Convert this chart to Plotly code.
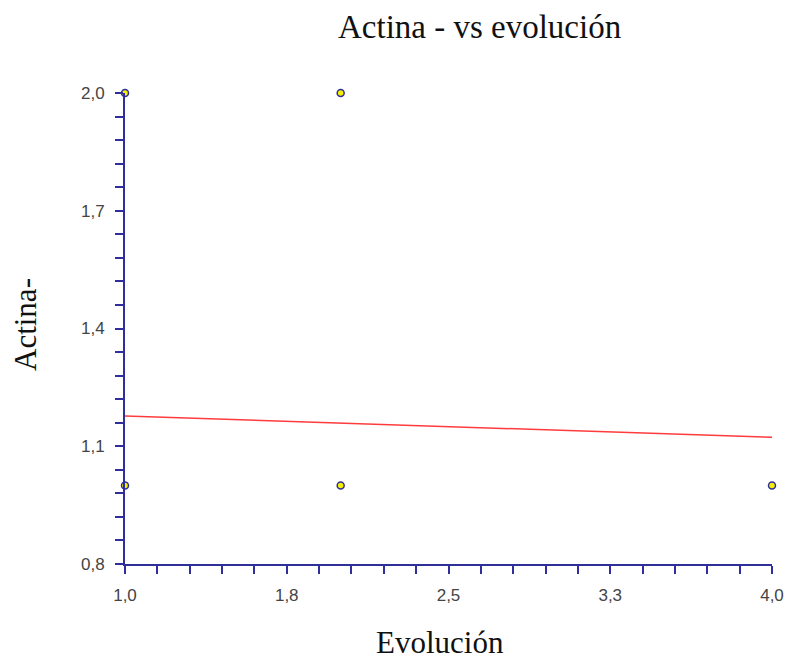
import plotly.graph_objects as go

# Observed cases
evolucion = [1, 2, 1, 2, 4]
actina = [2.0, 2.0, 1.0, 1.0, 1.0]

# Fitted trend line endpoints
fit_x = [1.0, 4.0]
fit_y = [1.177, 1.123]

x_tickvals = [1.0, 1.75, 2.5, 3.25, 4.0]
x_ticktext = ["1,0", "1,8", "2,5", "3,3", "4,0"]
y_tickvals = [0.8, 1.1, 1.4, 1.7, 2.0]
y_ticktext = ["0,8", "1,1", "1,4", "1,7", "2,0"]

axis_color = "#2f2f9c"
serif = "Liberation Serif, Times New Roman, serif"
sans = "Liberation Sans, Arial, sans-serif"

fig = go.Figure()
fig.add_trace(go.Scatter(
    x=fit_x, y=fit_y, mode="lines",
    line=dict(color="#ff3b3b", width=1.5),
    hoverinfo="skip", cliponaxis=False,
))
fig.add_trace(go.Scatter(
    x=evolucion, y=actina, mode="markers",
    marker=dict(size=7, color="#f5f000", line=dict(color="#2f2f9c", width=1.5)),
    cliponaxis=False,
))

tick_common = dict(ticks="outside", ticklen=8, tickwidth=2, tickcolor=axis_color,
                   showline=True, linecolor=axis_color, linewidth=2,
                   showgrid=False, zeroline=False, automargin=False,
                   ticklabelstandoff=7,
                   tickfont=dict(family=sans, size=17, color="#444444"))

fig.update_layout(
    width=790, height=661,
    margin=dict(l=125, r=18, t=93, b=97),
    paper_bgcolor="white", plot_bgcolor="white",
    showlegend=False,
    xaxis=dict(range=[1, 4], tickvals=x_tickvals, ticktext=x_ticktext,
               minor=dict(dtick=0.15, tick0=1, ticks="outside", ticklen=8,
                          tickwidth=2, tickcolor=axis_color),
               **tick_common),
    yaxis=dict(range=[0.8, 2.0], tickvals=y_tickvals, ticktext=y_ticktext,
               minor=dict(dtick=0.06, tick0=0.8, ticks="outside", ticklen=8,
                          tickwidth=2, tickcolor=axis_color),
               **tick_common),
    annotations=[
        dict(text="Actina - vs evolución", xref="paper", yref="paper",
             x=(479.5 - 125) / 647, y=1 + (93 - 27) / 471, xanchor="center",
             yanchor="middle", showarrow=False,
             font=dict(family=serif, size=33, color="#111111")),
        dict(text="Evolución", xref="paper", yref="paper",
             x=(440 - 125) / 647, y=-(642 - 564) / 471, xanchor="center",
             yanchor="middle", showarrow=False,
             font=dict(family=serif, size=31, color="#111111")),
        dict(text="Actina-", xref="paper", yref="paper", textangle=-90,
             x=-(125 - 25) / 647, y=(564 - 325) / 471, xanchor="center",
             yanchor="middle", showarrow=False,
             font=dict(family=serif, size=31, color="#111111")),
    ],
)

fig.write_html("out.html")
